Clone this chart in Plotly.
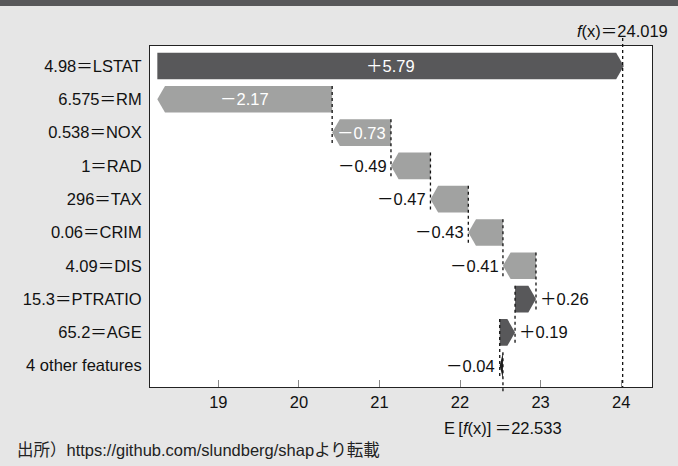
import plotly.graph_objects as go

# ---------------- data ----------------
features = ["4.98＝LSTAT", "6.575＝RM", "0.538＝NOX", "1＝RAD", "296＝TAX",
            "0.06＝CRIM", "4.09＝DIS", "15.3＝PTRATIO", "65.2＝AGE", "4 other features"]
shap_values = [5.79, -2.17, -0.73, -0.49, -0.47, -0.43, -0.41, 0.26, 0.19, -0.04]
base_value = 22.533
fx_value = 24.019
x_ticks = [19, 20, 21, 22, 23, 24]
source_text = "出所）https://github.com/slundberg/shapより転載"

# ---------------- style ----------------
W, H = 678, 466
ML, MR, MT, MB = 150, 26, 46, 79
BG = "#e6e6e6"
POS = "#58585a"
NEG = "#a1a2a1"
FONT = "Liberation Sans, Arial, Noto Sans CJK JP, sans-serif"
FS = 16.5
X_RANGE = [18.152, 24.383]
Y_RANGE = [9.64, -0.6]
HALF = 0.4          # half bar height (row units)
HEAD = 0.095        # arrow head length (x units)
INSIDE_MIN = 0.6    # label inside bar when |value| exceeds this

n = len(features)
pw, ph = W - ML - MR, H - MT - MB

# cumulative positions, built from the bottom row (base value) up
starts = [0.0] * n
ends = [0.0] * n
cur = base_value
for i in range(n - 1, -1, -1):
    starts[i] = cur
    cur = cur + shap_values[i]
    ends[i] = cur

fig = go.Figure()

def paper_y(yv):
    return (Y_RANGE[0] - yv) / (Y_RANGE[0] - Y_RANGE[1])

# bars as arrow polygons
for i in range(n):
    v = shap_values[i]
    x0, x1 = starts[i], ends[i]
    hl = min(HEAD, abs(v))
    if v >= 0:
        xs = [x0, x1 - hl, x1, x1 - hl, x0, x0]
        color = POS
    else:
        xs = [x0, x1 + hl, x1, x1 + hl, x0, x0]
        color = NEG if abs(v) > HEAD else "#1e1e1e"
    ys = [i - HALF, i - HALF, i, i + HALF, i + HALF, i - HALF]
    fig.add_trace(go.Scatter(x=xs, y=ys, mode="lines", fill="toself",
                             fillcolor=color, line=dict(width=0, color=color),
                             hoverinfo="skip", showlegend=False))

# dotted connectors between consecutive rows
for i in range(1, n - 1):
    fig.add_trace(go.Scatter(x=[starts[i], starts[i]], y=[i - HALF, i + 1 + HALF],
                             mode="lines", line=dict(color="#111", width=1.3, dash="dot"),
                             hoverinfo="skip", showlegend=False))

# E[f(x)] line: from the bottom row down past the axis
fig.add_shape(type="line", xref="x", yref="paper", x0=base_value, x1=base_value,
              y0=paper_y(n - 1 - HALF), y1=-6 / ph,
              line=dict(color="#111", width=1.3, dash="dot"))
# f(x) line: from above the plot down to the axis
fig.add_shape(type="line", xref="x", yref="paper", x0=fx_value, x1=fx_value,
              y0=1 + 8 / ph, y1=0,
              line=dict(color="#111", width=1.3, dash="dot"))

# bar value labels
for i in range(n):
    v = shap_values[i]
    txt = ("＋" if v >= 0 else "－") + f"{abs(v):.2f}"
    if abs(v) > INSIDE_MIN:
        fig.add_annotation(x=(starts[i] + ends[i]) / 2, y=i, text=txt, showarrow=False,
                           xanchor="center", yanchor="middle",
                           font=dict(family=FONT, size=FS, color="white"))
    elif v < 0:
        fig.add_annotation(x=ends[i] - 0.03, y=i, text=txt, showarrow=False,
                           xanchor="right", yanchor="middle",
                           font=dict(family=FONT, size=FS, color="#111"))
    else:
        fig.add_annotation(x=ends[i] + 0.03, y=i, text=txt, showarrow=False,
                           xanchor="left", yanchor="middle",
                           font=dict(family=FONT, size=FS, color="#111"))

# f(x) and E[f(x)] labels
fig.add_annotation(x=fx_value, xref="x", y=1 + 15 / ph, yref="paper",
                   text=f"<i>f</i>(x)＝{fx_value:.3f}", showarrow=False,
                   xanchor="center", yanchor="middle",
                   font=dict(family=FONT, size=FS, color="#111"))
fig.add_annotation(x=base_value, xref="x", y=-41 / ph, yref="paper",
                   text=f"E\u2009[<i>f</i>(x)]\u2009＝{base_value:.3f}", showarrow=False,
                   xanchor="center", yanchor="middle",
                   font=dict(family=FONT, size=FS, color="#111"))

# source footnote
fig.add_annotation(x=(15 - ML) / pw, xref="paper",
                   y=-(450 - (H - MB)) / ph, yref="paper",
                   text=source_text, showarrow=False, xanchor="left", yanchor="middle",
                   font=dict(family=FONT, size=16.5, color="#222"))

# top dark band
fig.add_shape(type="rect", xref="paper", yref="paper",
              x0=-ML / pw - 0.01, x1=1 + MR / pw + 0.01,
              y0=1 + (MT - 6) / ph, y1=1 + (MT + 2) / ph,
              fillcolor=POS, line=dict(width=0), layer="above")

fig.update_layout(
    width=W, height=H,
    margin=dict(l=ML, r=MR, t=MT, b=MB, pad=0),
    paper_bgcolor=BG, plot_bgcolor="white",
    font=dict(family=FONT, size=FS, color="#111"),
    showlegend=False,
)
fig.update_xaxes(range=X_RANGE, tickvals=x_ticks, ticktext=[str(t) for t in x_ticks],
                 showgrid=False, zeroline=False, showline=True, linecolor="#222",
                 linewidth=1, mirror=True, ticks="inside", ticklen=7,
                 tickcolor="#888", tickwidth=1, tickfont=dict(size=FS, color="#111"))
fig.update_yaxes(range=Y_RANGE, tickvals=list(range(n)), ticktext=features,
                 showgrid=False, zeroline=False, showline=True, linecolor="#222",
                 linewidth=1, mirror=True, ticks="", ticklabelstandoff=4,
                 tickfont=dict(size=FS, color="#111"))

fig.write_html("out.html", config={"displayModeBar": False},
               post_script="document.body.style.margin='0';document.body.style.padding='0';"
                           "document.body.style.overflow='hidden';")
